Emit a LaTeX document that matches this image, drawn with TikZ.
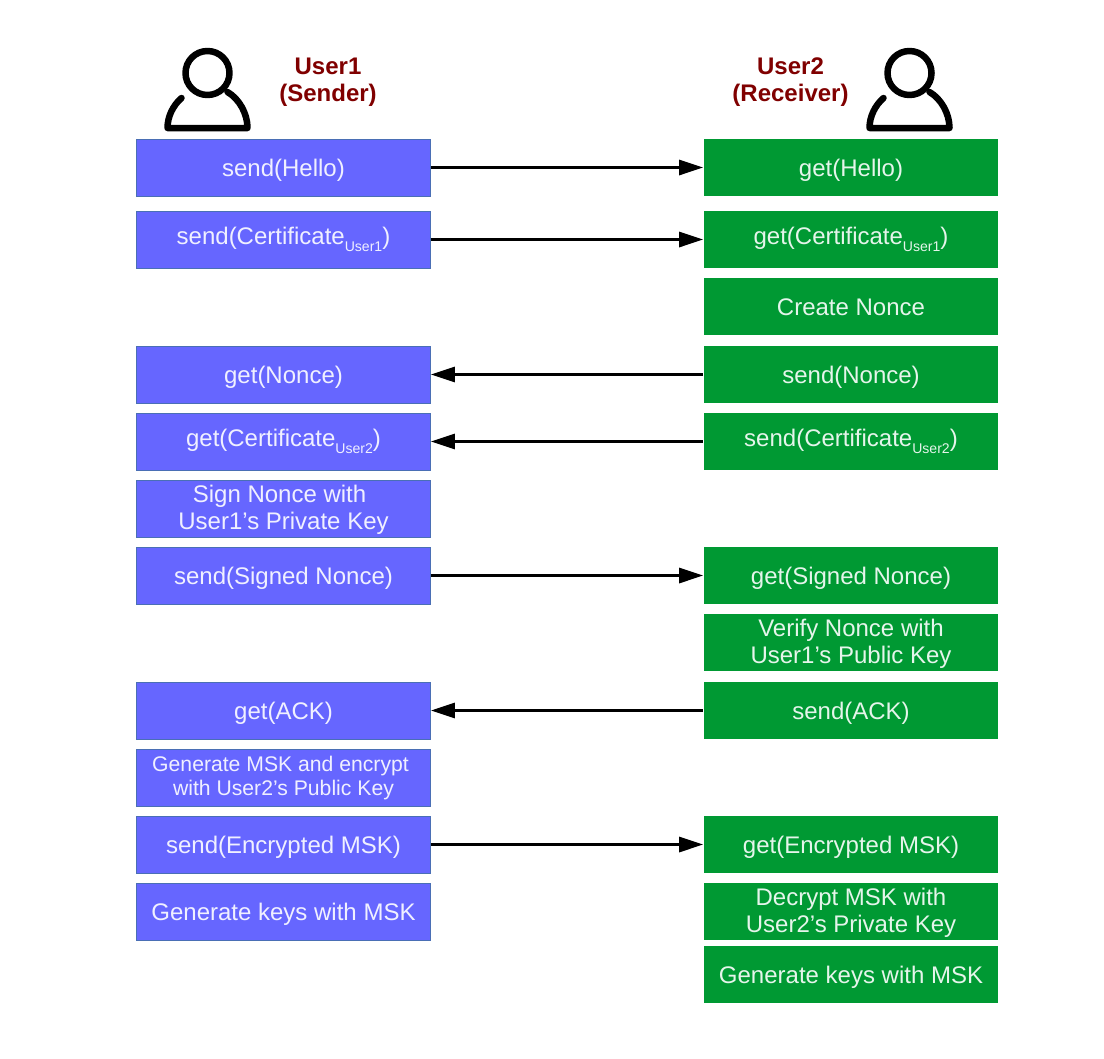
\documentclass[tikz,border=0pt]{standalone}
\usepackage{fontspec}
\setmainfont{Liberation Sans}
\usepackage{tikz}
\usepackage{xcolor}
\usetikzlibrary{arrows.meta}
\definecolor{senderblue}{RGB}{102,102,255}
\definecolor{senderedge}{RGB}{74,111,181}
\definecolor{receivergreen}{RGB}{0,153,51}
\definecolor{headred}{RGB}{128,0,0}
\newcommand{\subtag}[1]{\raisebox{-3.6pt}{\fontsize{8}{8}\selectfont #1}}
\tikzset{
  senderbox/.style={draw=senderedge,line width=0.5pt,fill=senderblue,text=white!90!senderblue,
    minimum width=5.88cm,minimum height=1.14cm,inner sep=0pt,align=center,
    font=\fontsize{13.66}{15.4}\selectfont},
  receiverbox/.style={fill=receivergreen,text=white!90!receivergreen,
    minimum width=5.9cm,minimum height=1.14cm,inner sep=0pt,align=center,
    font=\fontsize{13.66}{15.4}\selectfont},
  oneline/.style={text height=11pt,text depth=1.3pt},
  twoline/.style={text height=26pt,text depth=1.6pt},
  smalltwo/.style={text height=23pt,text depth=2pt,font=\fontsize{12.05}{13.66}\selectfont},
  headlabel/.style={text=headred,align=center,font=\bfseries\fontsize{13.66}{15.4}\selectfont},
  msgarrow/.style={-{Stealth[length=0.48cm,width=0.3cm,inset=0pt]},line width=1.7pt},
  personicon/.pic={
    \draw[line width=0.13cm,line cap=round,line join=round] (0,0) circle (22);
    \draw[line width=0.13cm,line cap=round,line join=round]
      (-26,25) .. controls (-34,32) and (-40,43) .. (-40,55) -- (40,55)
      .. controls (40,41) and (32,26) .. (20,19);
  }
}
\begin{document}
\begin{tikzpicture}[x=0.02cm,y=-0.02cm]
  \useasboundingbox (0,0) rectangle (1104,1058);

  % users
  \pic at (207.5,73) {personicon};
  \pic at (909.5,73) {personicon};
  \node[headlabel] (senderhead) at (328,82.5) {User1\\(Sender)};
  \node[headlabel] (receiverhead) at (790.5,82.5) {User2\\(Receiver)};

  % left column
  \node[senderbox,oneline] (shello) at (283.5,167.5) {send(Hello)};
  \node[senderbox] (scert) at (283.5,239.5) {send(Certificate\subtag{User1})};
  \node[senderbox,oneline] (gnonce) at (283.5,374.5) {get(Nonce)};
  \node[senderbox] (gcert) at (283.5,441.5) {get(Certificate\subtag{User2})};
  \node[senderbox,twoline] (signnonce) at (283.5,508.5) {Sign Nonce with\hspace*{4.5pt}\\User1’s Private Key};
  \node[senderbox,oneline] (ssigned) at (283.5,575.5) {send(Signed Nonce)};
  \node[senderbox,oneline] (gack) at (283.5,710.5) {get(ACK)};
  \node[senderbox,smalltwo] (genmsk) at (283.5,777.5) {Generate MSK and encrypt\hspace*{3.4pt}\\with User2’s Public Key};
  \node[senderbox,oneline] (smsk) at (283.5,844.5) {send(Encrypted MSK)};
  \node[senderbox,oneline] (skeys) at (283.5,911.5) {Generate keys with MSK};

  % right column
  \node[receiverbox,oneline] (ghello) at (851,167.5) {get(Hello)};
  \node[receiverbox] (rcert) at (851,239.5) {get(Certificate\subtag{User1})};
  \node[receiverbox,oneline] (mknonce) at (851,306.5) {Create Nonce};
  \node[receiverbox,oneline] (snonce) at (851,374.5) {send(Nonce)};
  \node[receiverbox] (tcert) at (851,441.5) {send(Certificate\subtag{User2})};
  \node[receiverbox,oneline] (rsigned) at (851,575.5) {get(Signed Nonce)};
  \node[receiverbox,twoline] (verify) at (851,642.5) {Verify Nonce with\\User1’s Public Key};
  \node[receiverbox,oneline] (sack) at (851,710.5) {send(ACK)};
  \node[receiverbox,oneline] (rmsk) at (851,844.5) {get(Encrypted MSK)};
  \node[receiverbox,twoline] (decrypt) at (851,911.5) {Decrypt MSK with\\User2’s Private Key};
  \node[receiverbox,oneline] (rkeys) at (851,974.5) {Generate keys with MSK};

  % messages
  \draw[msgarrow] (shello) -- (ghello);
  \draw[msgarrow] (scert) -- (rcert);
  \draw[msgarrow] (snonce) -- (gnonce);
  \draw[msgarrow] (tcert) -- (gcert);
  \draw[msgarrow] (ssigned) -- (rsigned);
  \draw[msgarrow] (sack) -- (gack);
  \draw[msgarrow] (smsk) -- (rmsk);
\end{tikzpicture}
\end{document}
